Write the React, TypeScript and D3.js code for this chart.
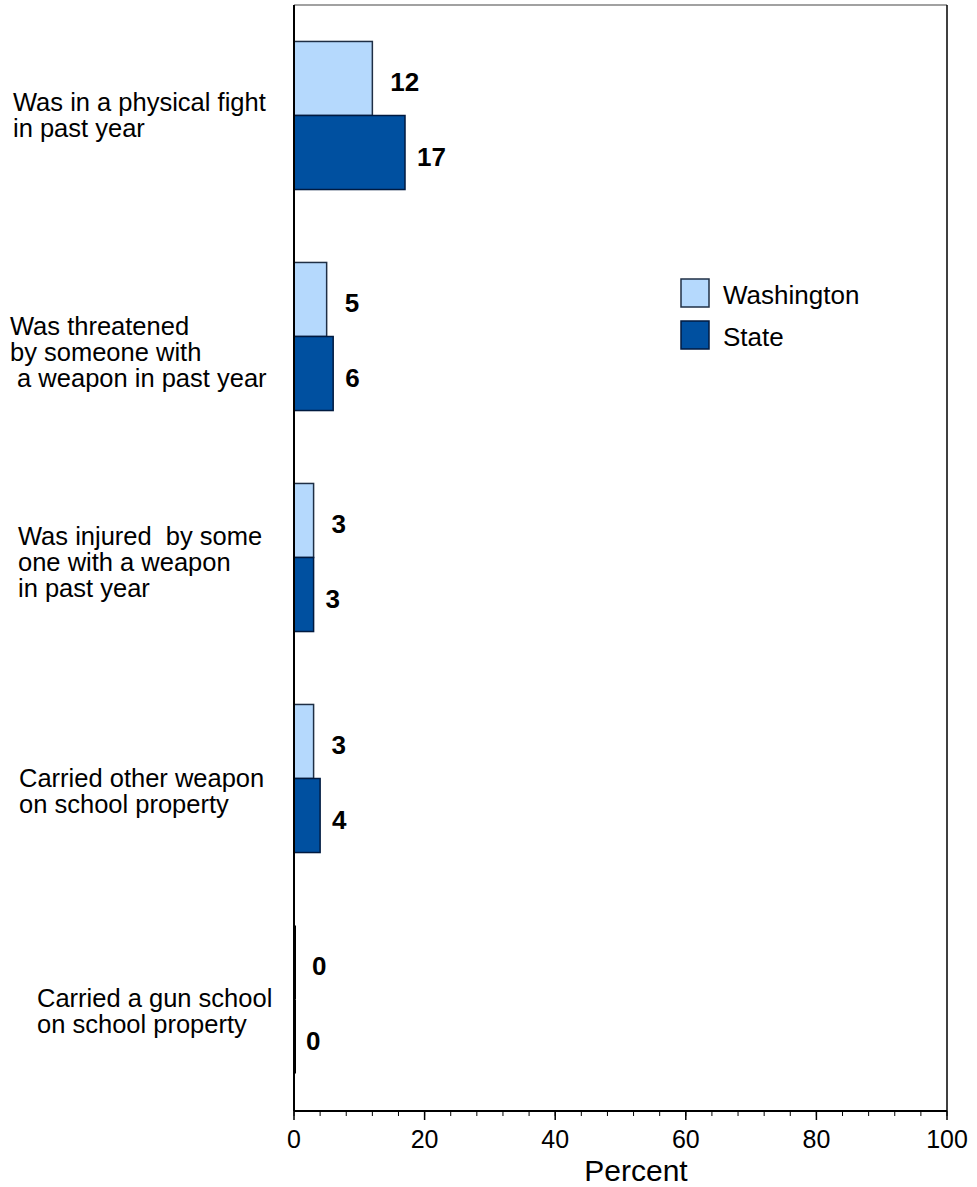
import React from "react";
import * as d3 from "d3";

const categories: string[][] = [
  ["Was in a physical fight", "in past year"],
  ["Was threatened", "by someone with", " a weapon in past year"],
  ["Was injured  by some", "one with a weapon", "in past year"],
  ["Carried other weapon", "on school property"],
  ["Carried a gun school", "on school property"],
];
const seriesNames = ["Washington", "State"];
const washington = [12, 5, 3, 3, 0];
const state = [17, 6, 3, 4, 0];
const xTicks = [0, 20, 40, 60, 80, 100];

// layout tweaks for the category labels (style only)
const labelLayout = [
  { dx: 1, dy: 0.5 },
  { dx: -2, dy: 16.5 },
  { dx: 6, dy: 5.5 },
  { dx: 7, dy: 13.5 },
  { dx: 25, dy: 12.5 },
];

const W = 977;
const H = 1187;
const M = { left: 294, right: 947, top: 5, bottom: 1111 };
const FILL = ["#b5d9fd", "#0050a0"];
const STROKE = ["#1f2f45", "#001a40"];
const LABEL_OFF = [18, 12];
const FONT = "Arial, 'Liberation Sans', Helvetica, sans-serif";

export default function App() {
  const x = d3.scaleLinear().domain([0, 100]).range([M.left, M.right]);
  const idx = categories.map((_, i) => String(i));
  const y = d3
    .scaleBand<string>()
    .domain(idx)
    .range([M.top, 1110])
    .paddingInner(0.33)
    .paddingOuter(0.165);
  const inner = d3
    .scaleBand<string>()
    .domain(seriesNames)
    .range([0, y.bandwidth()]);
  const values = [washington, state];
  const minorTicks = d3.range(0, 101, 4);
  const lh = 26;

  return (
    <svg
      width={W}
      height={H}
      style={{ position: "absolute", left: 0, top: 0, background: "#fff" }}
      fontFamily={FONT}
    >
      <rect x={0} y={0} width={W} height={H} fill="#fff" />
      {/* frame */}
      <line x1={M.left} x2={M.right} y1={M.top} y2={M.top} stroke="#444" strokeWidth={1.2} />
      <line x1={M.right} x2={M.right} y1={M.top} y2={M.bottom} stroke="#000" strokeWidth={1.5} />
      {/* bars */}
      {seriesNames.map((s, si) =>
        values[si].map((v, ci) => {
          const y0 = (y(String(ci)) as number) + (inner(s) as number);
          const bw = inner.bandwidth();
          const x1 = x(v);
          return (
            <g key={s + ci}>
              <rect
                x={x(0)}
                y={y0}
                width={Math.max(0, x1 - x(0))}
                height={bw}
                fill={FILL[si]}
                stroke={STROKE[si]}
                strokeWidth={1.5}
              />
              {v === 0 && (
                <line x1={x(0) + 1} x2={x(0) + 1} y1={y0} y2={y0 + bw} stroke="#000" strokeWidth={2} />
              )}
              <text
                x={x1 + LABEL_OFF[si]}
                y={y0 + bw / 2 + 13}
                fontSize={26}
                fontWeight="bold"
                fill="#000"
              >
                {v}
              </text>
            </g>
          );
        })
      )}
      {/* axes lines */}
      <line x1={M.left} x2={M.left} y1={M.top} y2={M.bottom} stroke="#000" strokeWidth={2} />
      <line x1={M.left} x2={M.right} y1={M.bottom} y2={M.bottom} stroke="#000" strokeWidth={2} />
      {minorTicks.map((t) => (
        <line key={"m" + t} x1={x(t)} x2={x(t)} y1={M.bottom} y2={M.bottom + 5} stroke="#000" strokeWidth={1} />
      ))}
      {xTicks.map((t) => (
        <g key={"t" + t}>
          <line x1={x(t)} x2={x(t)} y1={M.bottom} y2={M.bottom + 9} stroke="#000" strokeWidth={1.5} />
          <text x={x(t)} y={1148} textAnchor="middle" fontSize={25} fill="#000">
            {t}
          </text>
        </g>
      ))}
      <text x={636} y={1181} textAnchor="middle" fontSize={30} fill="#000">
        Percent
      </text>
      {/* category labels */}
      {categories.map((lines, ci) => {
        const c = (y(String(ci)) as number) + y.bandwidth() / 2;
        const first = c - ((lines.length - 1) * lh) / 2 + 8 + labelLayout[ci].dy;
        return (
          <text
            key={"c" + ci}
            x={12 + labelLayout[ci].dx}
            y={first}
            fontSize={25.5}
            fill="#000"
            style={{ whiteSpace: "pre" }}
          >
            {lines.map((l, li) => (
              <tspan key={li} x={12 + labelLayout[ci].dx} y={first + li * lh}>
                {l}
              </tspan>
            ))}
          </text>
        );
      })}
      {/* legend */}
      {seriesNames.map((s, si) => (
        <g key={"l" + s} transform={`translate(681, ${279 + si * 42})`}>
          <rect x={0} y={0} width={28} height={28} fill={FILL[si]} stroke={STROKE[si]} strokeWidth={1.5} />
          <text x={42} y={25} fontSize={26} fill="#000">
            {s}
          </text>
        </g>
      ))}
    </svg>
  );
}
